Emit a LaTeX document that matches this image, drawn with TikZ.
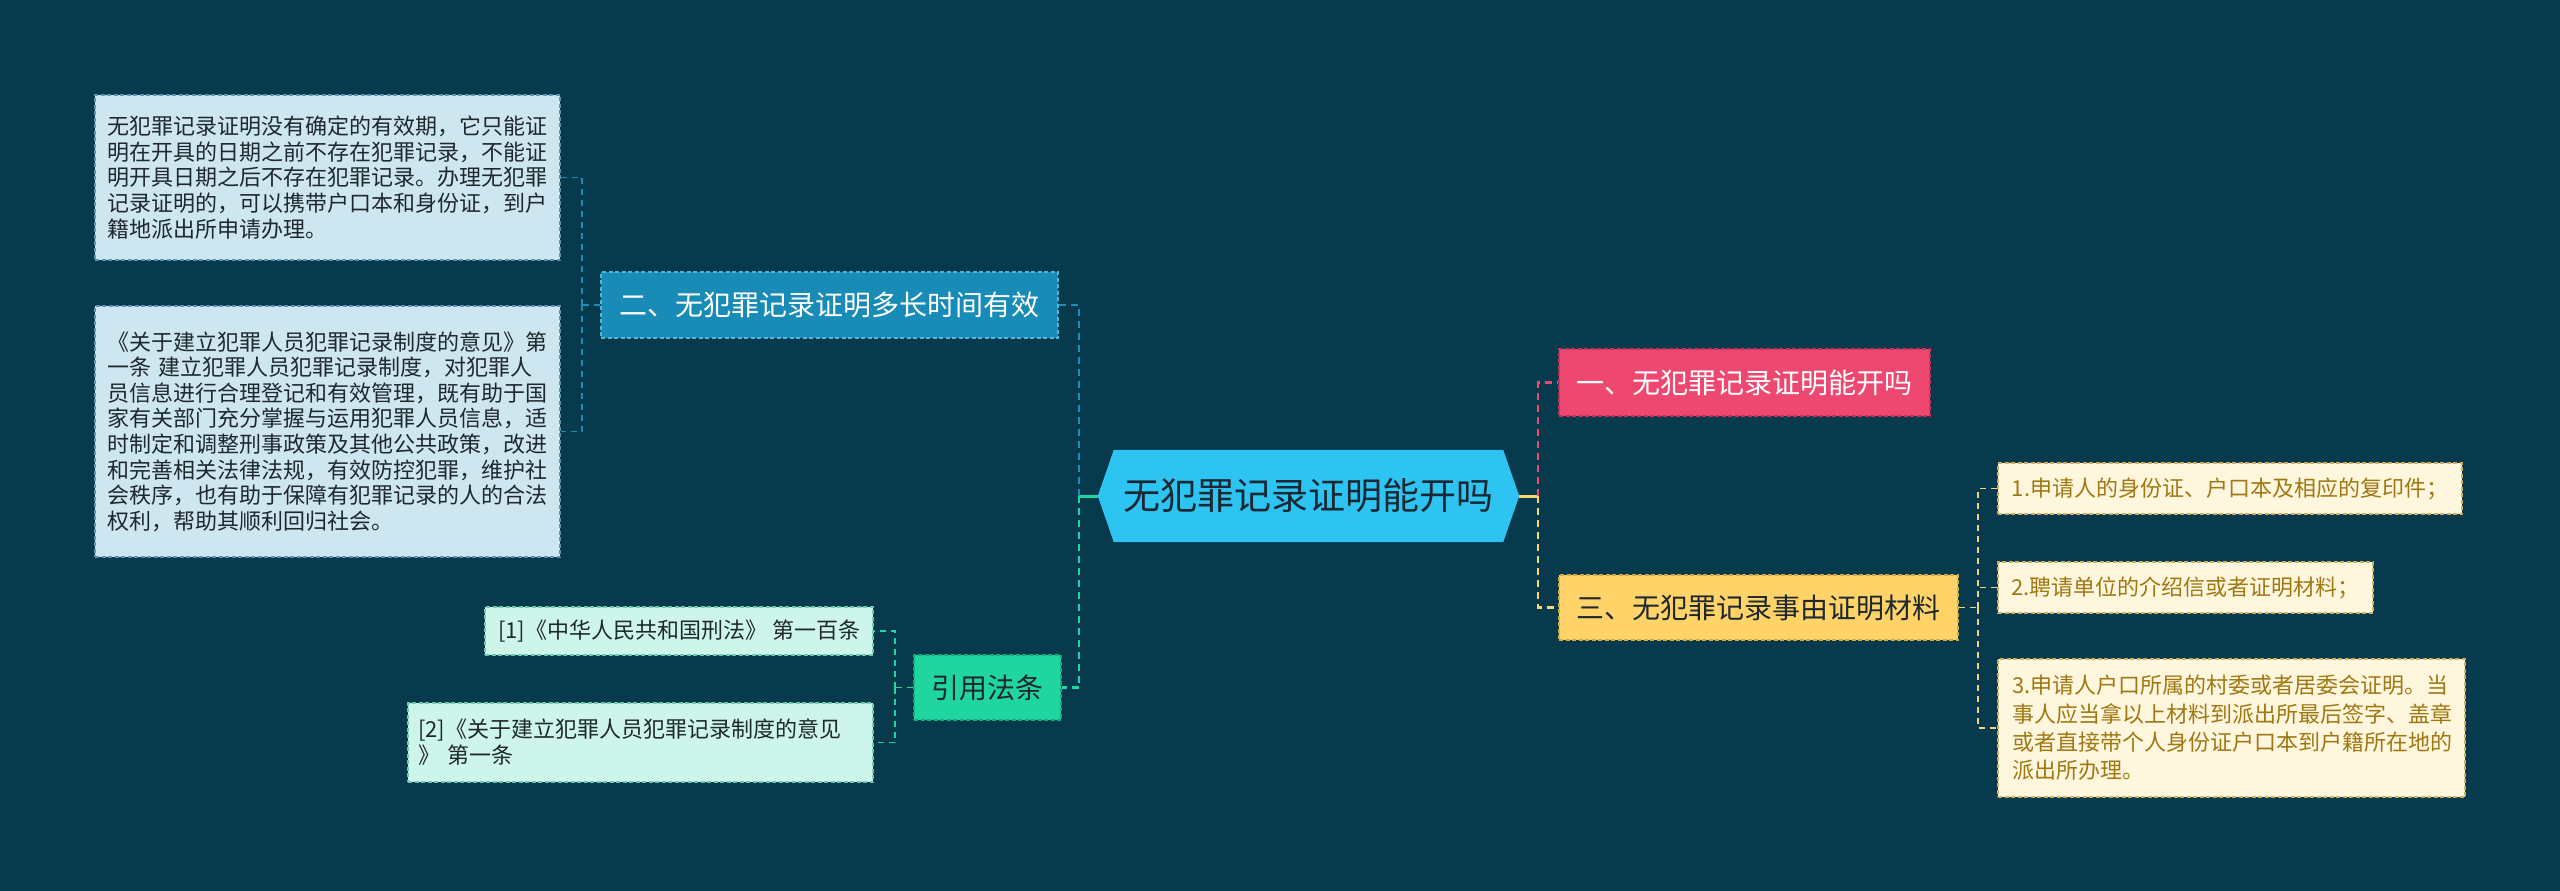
\documentclass[tikz,border=0pt]{standalone}
\usepackage{fontspec}
\setmainfont{Noto Sans CJK SC}
\usetikzlibrary{backgrounds}
\definecolor{bgc}{RGB}{8,58,77}
\definecolor{cBlue}{RGB}{28,141,184}
\definecolor{cGreen}{RGB}{30,214,160}
\definecolor{cPink}{RGB}{238,74,114}
\definecolor{cYellow}{RGB}{255,214,110}
\definecolor{cItem}{RGB}{236,212,136}
\definecolor{rootFill}{RGB}{46,196,242}
\definecolor{rootText}{RGB}{26,40,52}
\definecolor{twoFill}{RGB}{24,139,182}
\definecolor{twoLine}{RGB}{80,180,220}
\definecolor{oneFill}{RGB}{238,72,112}
\definecolor{oneLine}{RGB}{200,50,90}
\definecolor{threeFill}{RGB}{255,211,104}
\definecolor{threeLine}{RGB}{210,170,70}
\definecolor{citeFill}{RGB}{30,214,158}
\definecolor{citeLine}{RGB}{20,170,125}
\definecolor{leafBlue}{RGB}{206,230,239}
\definecolor{leafBlueLine}{RGB}{90,150,180}
\definecolor{leafMint}{RGB}{206,245,234}
\definecolor{leafMintLine}{RGB}{110,200,175}
\definecolor{leafCream}{RGB}{255,246,222}
\definecolor{leafCreamLine}{RGB}{205,175,95}
\definecolor{darkText}{RGB}{30,40,46}
\definecolor{goldText}{RGB}{160,120,18}
\tikzset{
  basebox/.style={rectangle, inner xsep=12pt, inner ysep=0pt, align=left,
    line width=1.3pt, dash pattern=on 4pt off 2.5pt},
  leafA/.style={basebox, draw=leafBlueLine, fill=leafBlue, text=darkText,
    font=\fontsize{22pt}{25.6pt}\selectfont},
  leafC/.style={basebox, draw=leafMintLine, fill=leafMint, text=darkText,
    font=\fontsize{22pt}{26pt}\selectfont},
  leafI/.style={basebox, inner xsep=14pt, draw=leafCreamLine, fill=leafCream, text=goldText,
    font=\fontsize{22pt}{28.3pt}\selectfont},
  mainbox/.style={rectangle, inner sep=0pt, line width=1.3pt,
    dash pattern=on 4pt off 2.5pt, font=\fontsize{28pt}{32pt}\selectfont},
  conn/.style={line width=2.6pt, dash pattern=on 7pt off 5pt},
  conn2/.style={line width=1.6pt, dash pattern=on 6pt off 5pt},
  stub/.style={line width=3pt},
}
\begin{document}
\begin{tikzpicture}[x=1pt,y=-1pt]
\useasboundingbox (0,0) rectangle (2560,891);

% root
\node[rectangle, inner sep=0pt, minimum width=421pt, minimum height=92pt,
      text=rootText, font=\fontsize{37pt}{40pt}\selectfont] (root) at (1308.5,496) {无犯罪记录证明能开吗};
\begin{scope}[on background layer]
\fill[bgc] (0,0) rectangle (2560,891);
\fill[rootFill] (root.west) -- ([xshift=16pt]root.north west) -- ([xshift=-16pt]root.north east)
  -- (root.east) -- ([xshift=-16pt]root.south east) -- ([xshift=16pt]root.south west) -- cycle;
\end{scope}

% main branches
\node[mainbox, draw=twoLine, fill=twoFill, text=white, minimum width=457pt, minimum height=66pt] (two) at (829.5,305) {二、无犯罪记录证明多长时间有效};
\node[mainbox, draw=oneLine, fill=oneFill, text=white, minimum width=371pt, minimum height=67pt] (one) at (1744.5,382.5) {一、无犯罪记录证明能开吗};
\node[mainbox, draw=threeLine, fill=threeFill, text=darkText, minimum width=399pt, minimum height=65pt] (three) at (1758.5,607.5) {三、无犯罪记录事由证明材料};
\node[mainbox, draw=citeLine, fill=citeFill, text=darkText, minimum width=147pt, minimum height=65pt] (cite) at (987.5,687.5) {引用法条};

% leaves left
\node[leafA, text width=441pt, minimum height=165pt] (boxA) at (327.5,177.5) {无犯罪记录证明没有确定的有效期，它只能证\\
明在开具的日期之前不存在犯罪记录，不能证\\
明开具日期之后不存在犯罪记录。办理无犯罪\\
记录证明的，可以携带户口本和身份证，到户\\
籍地派出所申请办理。};
\node[leafA, text width=441pt, minimum height=251pt] (boxB) at (327.5,431.5) {《关于建立犯罪人员犯罪记录制度的意见》第\\
一条 建立犯罪人员犯罪记录制度，对犯罪人\\
员信息进行合理登记和有效管理，既有助于国\\
家有关部门充分掌握与运用犯罪人员信息，适\\
时制定和调整刑事政策及其他公共政策，改进\\
和完善相关法律法规，有效防控犯罪，维护社\\
会秩序，也有助于保障有犯罪记录的人的合法\\
权利，帮助其顺利回归社会。};

% citations
\node[leafC, inner xsep=0pt, minimum width=388pt, minimum height=48pt] (c1) at (679,631) {{[}1{]}《中华人民共和国刑法》 第一百条};
\node[leafC, inner xsep=10pt, text width=445pt, minimum height=79pt] (c2) at (640.5,742.5) {{[}2{]}《关于建立犯罪人员犯罪记录制度的意见\\
》 第一条};

% items right
\node[leafI, inner xsep=0pt, minimum width=464pt, minimum height=51pt] (i1) at (2230,488.5) {1.申请人的身份证、户口本及相应的复印件；};
\node[leafI, inner xsep=0pt, minimum width=375pt, minimum height=51pt] (i2) at (2185.5,587.5) {2.聘请单位的介绍信或者证明材料；};
\node[leafI, text width=439pt, minimum height=138pt] (i3) at (2231.5,728) {3.申请人户口所属的村委或者居委会证明。当\\
事人应当拿以上材料到派出所最后签字、盖章\\
或者直接带个人身份证户口本到户籍所在地的\\
派出所办理。};

% connectors: root to left
\coordinate (jL) at (1079,496);
\draw[stub, cGreen] (root.west) -- (jL);
\draw[conn, cBlue] (jL) |- (two.east);
\draw[conn, cGreen] (jL) |- (cite.east);

% root to right
\coordinate (jR) at (1538,496);
\draw[stub, cYellow] (root.east) -- (jR);
\draw[conn, cPink] (jR) |- (one.west);
\draw[conn, cYellow] (jR) |- (three.west);

% two to leaves
\coordinate (jA) at (582,305);
\draw[conn2, cBlue] (two.west) -- (jA);
\draw[conn2, cBlue] (jA) |- (boxA.east);
\draw[conn2, cBlue] (jA) |- (boxB.east);

% cite to refs
\coordinate (jC) at (895,687.5);
\draw[conn2, cGreen] (cite.west) -- (jC);
\draw[conn2, cGreen] (jC) |- (c1.east);
\draw[conn2, cGreen] (jC) |- (c2.east);

% three to items
\coordinate (jI) at (1978,607.5);
\draw[conn2, cItem] (three.east) -- (jI);
\draw[conn2, cItem] (jI) |- (i1.west);
\draw[conn2, cItem] (jI) |- (i2.west);
\draw[conn2, cItem] (jI) |- (i3.west);
\end{tikzpicture}
\end{document}
